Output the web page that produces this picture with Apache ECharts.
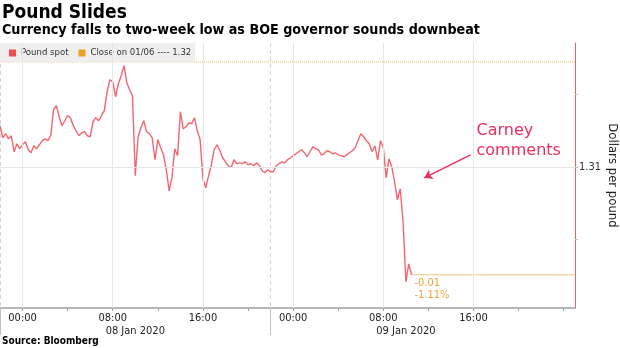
<!DOCTYPE html>
<html><head><meta charset="utf-8">
<script src="https://cdn.jsdelivr.net/npm/echarts@6/dist/echarts.min.js"></script>
<style>html,body{margin:0;padding:0;background:#fff}#c{width:620px;height:348px}</style>
</head><body><div id="c"></div>
<script>
const titleText = 'Pound Slides';
const subtitleText = 'Currency falls to two-week low as BOE governor sounds downbeat';
const sourceText = 'Source: Bloomberg';
const seriesName = 'Pound spot';
const closeLabel = 'Close on 01/06';
const closeValue = 1.3172;
const startTime = Date.UTC(2020, 0, 7, 22, 0);
const stepMinutes = 15;
const poundSpot = [
  1.31282, 1.31199, 1.31227, 1.31192, 1.31213, 1.31103, 1.31158, 1.31124, 1.31151, 1.31172,
  1.31117, 1.31096, 1.31144, 1.31124, 1.31151, 1.31179, 1.31192, 1.31179, 1.31213, 1.31392,
  1.31419, 1.31344, 1.31282, 1.31316, 1.31351, 1.31337, 1.31282, 1.31247, 1.31213, 1.31234,
  1.31241, 1.31213, 1.31206, 1.31309, 1.31337, 1.31316, 1.31351, 1.31385, 1.31515, 1.31598,
  1.31584, 1.31481, 1.31570, 1.31625, 1.31694, 1.31577, 1.31529, 1.31488, 1.30938, 1.31206,
  1.31268, 1.31316, 1.31241, 1.31227, 1.31199, 1.31048, 1.31186, 1.31131, 1.31082, 1.30979,
  1.30835, 1.30924, 1.31124, 1.31076, 1.31378, 1.31261, 1.31275, 1.31302, 1.31296, 1.31337,
  1.31247, 1.31186, 1.30918, 1.30856, 1.30938, 1.31014, 1.31117, 1.31151, 1.31110, 1.31062,
  1.31034, 1.31007, 1.30993, 1.31048, 1.31021, 1.31027, 1.31021, 1.31034, 1.31014, 1.31021,
  1.31007, 1.31027, 1.31007, 1.30973, 1.30959, 1.30979, 1.30966, 1.30966, 1.31007, 1.31021,
  1.31034, 1.31027, 1.31048, 1.31062, 1.31076, 1.31089, 1.31103, 1.31117, 1.31096, 1.31069,
  1.31103, 1.31137, 1.31124, 1.31117, 1.31082, 1.31089, 1.31110, 1.31103, 1.31089, 1.31096,
  1.31082, 1.31076, 1.31069, 1.31082, 1.31096, 1.31110, 1.31131, 1.31179, 1.31227, 1.31206,
  1.31179, 1.31158, 1.31103, 1.31144, 1.31048, 1.31179, 1.31131, 1.30924, 1.31055, 1.31000,
  1.30897, 1.30773, 1.30849, 1.30622, 1.30210, 1.30333, 1.30258
];
const xMin = Date.UTC(2020, 0, 7, 22);
const xMax = Date.UTC(2020, 0, 10, 1);
const yMin = 1.3003;
const yMax = 1.3185;
const timeLabelValues = [
  Date.UTC(2020, 0, 8, 0), Date.UTC(2020, 0, 8, 8), Date.UTC(2020, 0, 8, 16),
  Date.UTC(2020, 0, 9, 0), Date.UTC(2020, 0, 9, 8), Date.UTC(2020, 0, 9, 16)
];
const timeTickValues = [
  Date.UTC(2020, 0, 8, 0), Date.UTC(2020, 0, 8, 4), Date.UTC(2020, 0, 8, 8), Date.UTC(2020, 0, 8, 12),
  Date.UTC(2020, 0, 8, 16), Date.UTC(2020, 0, 8, 20), Date.UTC(2020, 0, 9, 0), Date.UTC(2020, 0, 9, 4),
  Date.UTC(2020, 0, 9, 8), Date.UTC(2020, 0, 9, 12), Date.UTC(2020, 0, 9, 16), Date.UTC(2020, 0, 9, 20),
  Date.UTC(2020, 0, 10, 0)
];
const sessionBounds = [Date.UTC(2020, 0, 7, 22), Date.UTC(2020, 0, 8, 22)];
const dateLabelValues = [Date.UTC(2020, 0, 8, 10), Date.UTC(2020, 0, 9, 10)];
const monthNames = ['Jan', 'Feb', 'Mar', 'Apr', 'May', 'Jun', 'Jul', 'Aug', 'Sep', 'Oct', 'Nov', 'Dec'];
const yTickValues = [1.305, 1.31, 1.315];
const yLabelValues = [1.31];
const yGridValues = [1.31];
const annotationText = 'Carney\ncomments';
const annotationAt = [Date.UTC(2020, 0, 9, 16, 16), 1.31175];
const arrowFrom = [Date.UTC(2020, 0, 9, 15, 44), 1.31082];
const arrowTo = [Date.UTC(2020, 0, 9, 11, 38), 1.30924];

const FONT = '"DejaVu Sans Condensed", "Liberation Sans", sans-serif';
const pad2 = n => (n < 10 ? '0' : '') + n;
const spotData = poundSpot.map((p, i) => [startTime + i * stepMinutes * 60000, p]);
const last = spotData[spotData.length - 1];
const change = last[1] - closeValue;
const pct = change / closeValue * 100;
const closeName = closeLabel + ' ---- ' + closeValue.toFixed(2);

const chart = echarts.init(document.getElementById('c'), null, { renderer: 'canvas' });
chart.setOption({
  animation: false,
  textStyle: { fontFamily: FONT },
  title: [
    { text: titleText, left: 2, top: 4, padding: 0,
      textStyle: { fontFamily: FONT, fontWeight: 'bold', fontSize: 19, color: '#000' } },
    { text: subtitleText, left: 2, top: 23, padding: 0,
      textStyle: { fontFamily: FONT, fontWeight: 'bold', fontSize: 14.2, color: '#000' } },
    { text: sourceText, left: 2, top: 336, padding: 0,
      textStyle: { fontFamily: FONT, fontWeight: 'bold', fontSize: 10, color: '#000' } }
  ],
  legend: {
    data: [seriesName, closeName],
    left: 0, top: 43, padding: [5, 4, 4, 9],
    backgroundColor: '#efefef',
    icon: 'rect', itemWidth: 7, itemHeight: 7, itemGap: 10,
    textStyle: { fontFamily: FONT, fontSize: 9.5, color: '#333' },
    selectedMode: false
  },
  grid: { left: 0, right: 45, top: 43, bottom: 40, outerBoundsMode: 'none' },
  xAxis: [
    {
      type: 'value', min: xMin, max: xMax, position: 'bottom',
      axisLine: { show: true, onZero: false, lineStyle: { color: '#a0a0a0', width: 1.5 } },
      axisTick: { show: true, customValues: timeTickValues, length: 3, lineStyle: { color: '#a0a0a0' } },
      axisLabel: {
        customValues: timeLabelValues, margin: 5, fontSize: 11, color: '#222', fontFamily: FONT,
        formatter: v => { const d = new Date(v); return pad2(d.getUTCHours()) + ':' + pad2(d.getUTCMinutes()); }
      },
      splitLine: { show: false }
    },
    {
      type: 'value', min: xMin, max: xMax, position: 'bottom',
      axisLine: { show: false },
      axisTick: { show: true, customValues: sessionBounds, length: 27, lineStyle: { color: '#c0c0c0' } },
      axisLabel: {
        customValues: dateLabelValues, margin: 18, fontSize: 11, color: '#222', fontFamily: FONT,
        formatter: v => { const d = new Date(v); return pad2(d.getUTCDate()) + ' ' + monthNames[d.getUTCMonth()] + ' ' + d.getUTCFullYear(); }
      },
      splitLine: { show: true, lineStyle: { color: '#d4d4d4', type: [4, 3], width: 1 } }
    }
  ],
  yAxis: {
    type: 'value', position: 'right', min: yMin, max: yMax,
    axisLine: { show: true, onZero: false, lineStyle: { color: '#f0606a', width: 1 } },
    axisTick: { show: true, customValues: yTickValues, length: 3, lineStyle: { color: '#c8c8c8' } },
    axisLabel: { customValues: yLabelValues, formatter: v => v.toFixed(2), margin: 4, fontSize: 11, color: '#333', fontFamily: FONT },
    splitLine: { show: false },
    name: 'Dollars per pound', nameLocation: 'middle', nameRotate: -90, nameGap: 31,
    nameMoveOverlap: false,
    nameTextStyle: { fontSize: 13, color: '#222', fontFamily: FONT }
  },
  series: [
    {
      name: 'gridlines', type: 'line', data: [], silent: true, z: 1,
      markLine: {
        silent: true, symbol: ['none', 'none'], label: { show: false },
        lineStyle: { color: '#e6e6e6', type: 'solid', width: 1 },
        data: timeLabelValues.map(t => ({ xAxis: t })).concat(yGridValues.map(v => ({ yAxis: v })))
      }
    },
    {
      name: closeName, type: 'line', data: [[xMin, closeValue], [xMax, closeValue]],
      showSymbol: false, silent: true, z: 2,
      itemStyle: { color: '#f0a020' },
      lineStyle: { color: '#f3b868', type: 'dotted', width: 1 }
    },
    {
      name: seriesName, type: 'line', data: spotData, showSymbol: false, z: 4,
      itemStyle: { color: '#ee4b55' },
      lineStyle: { color: '#f26670', width: 1.4 }
    },
    {
      name: 'last', type: 'line', data: [[last[0], last[1]], [xMax, last[1]]],
      showSymbol: false, silent: true, z: 3,
      lineStyle: { color: '#f8c47c', width: 1 },
      markPoint: {
        silent: true, symbol: 'circle', symbolSize: 0,
        data: [{ coord: [last[0], last[1]] }],
        label: {
          show: true, position: [3, 2], align: 'left', verticalAlign: 'top',
          formatter: change.toFixed(2) + '\n' + pct.toFixed(2) + '%',
          color: '#f0a040', fontSize: 11, lineHeight: 12, fontFamily: FONT
        }
      }
    },
    {
      name: 'annotation', type: 'line', data: [], silent: true, z: 5,
      markPoint: {
        silent: true, symbol: 'circle', symbolSize: 0,
        data: [{ coord: annotationAt }],
        label: {
          show: true, position: [0, 0], align: 'left', verticalAlign: 'middle',
          formatter: annotationText, color: '#e8305f', fontSize: 16, lineHeight: 20,
          fontFamily: '"DejaVu Sans", sans-serif'
        }
      },
      markLine: {
        silent: true, label: { show: false }, symbolSize: 8,
        lineStyle: { color: '#e8305f', width: 1.5, type: 'solid' },
        data: [[{ coord: arrowFrom, symbol: 'none' }, { coord: arrowTo, symbol: 'arrow' }]]
      }
    }
  ]
});
</script>
</body></html>
